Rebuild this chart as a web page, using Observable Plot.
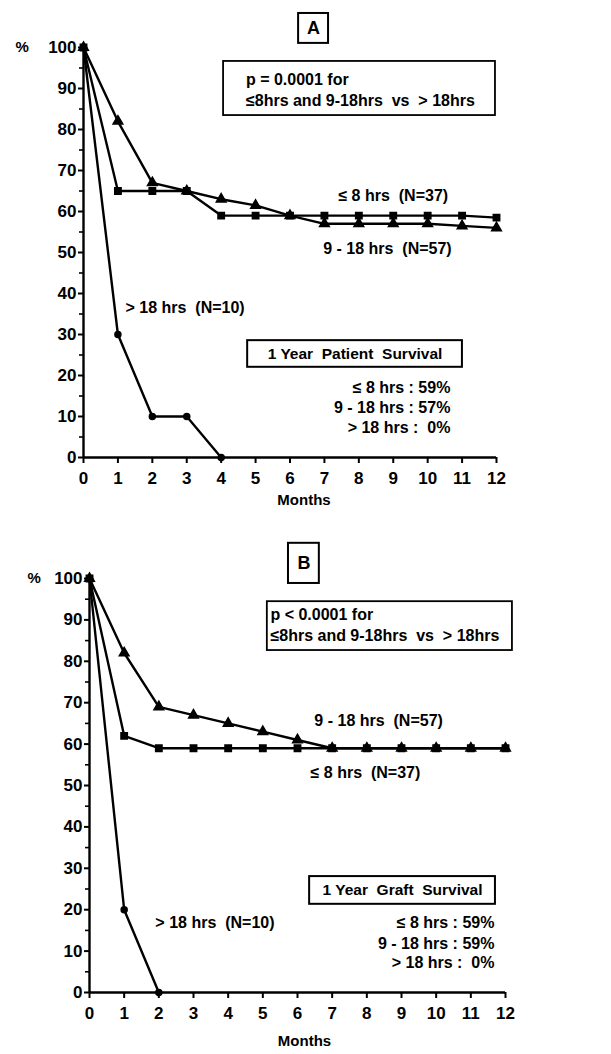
<!DOCTYPE html>
<html>
<head>
<meta charset="utf-8">
<script src="https://cdn.jsdelivr.net/npm/d3@7"></script>
<script src="https://cdn.jsdelivr.net/npm/@observablehq/plot@0.6"></script>
<style>
  html, body { margin: 0; padding: 0; background: white; }
  svg { display: block; }
</style>
</head>
<body>
<div id="a"></div>
<div id="b"></div>
<script>
// ---- Data ----
const months = [0,1,2,3,4,5,6,7,8,9,10,11,12];
const xTicks = [0,1,2,3,4,5,6,7,8,9,10,11,12];
const yTicks = [0,10,20,30,40,50,60,70,80,90,100];
const yMinorTicks = [5,15,25,35,45,55,65,75,85,95];

// Panel A: patient survival
const a_le8   = [100,65,65,65,59,59,59,59,59,59,59,59,58.5];
const a_9to18 = [100,82,67,65,63,61.5,59,57,57,57,57,56.5,56];
const a_gt18  = [100,30,10,10,0];

// Panel B: graft survival
const b_le8   = [100,62,59,59,59,59,59,59,59,59,59,59,59];
const b_9to18 = [100,82,69,67,65,63,61,59,59,59,59,59,59];
const b_gt18  = [100,20,0];

const pts = (vals, sym) => vals.map((v, i) => ({month: months[i], value: v, sym}));

const FONT = "'Liberation Sans', Arial, Helvetica, sans-serif";

function panel(cfg) {
  const series = [
    pts(cfg.le8, "square"),
    pts(cfg.mid, "triangle"),
    pts(cfg.gt18, "circle")
  ];
  const marks = [
    Plot.ruleX([0], {y1: 0, y2: 100, strokeWidth: 2.4}),
    Plot.ruleY([0], {strokeWidth: 2.4}),
    Plot.axisY({ticks: yTicks, tickSize: 5, tickPadding: 2, fontSize: 17, label: null, strokeWidth: 2}),
    Plot.axisY({ticks: yMinorTicks, tickSize: 4, tickFormat: () => "", label: null, strokeWidth: 1.6}),
    Plot.axisX({ticks: xTicks, tickSize: 6, tickPadding: 8, fontSize: 17, label: null, strokeWidth: 2}),
    Plot.text(["Months"], {frameAnchor: "bottom", dy: cfg.monthsDy, dx: cfg.monthsDx, fontSize: 15, text: d => d}),
    Plot.text(["%"], {frameAnchor: "top-left", lineAnchor: "middle", dx: cfg.pctDx, fontSize: 15, text: d => d}),
  ];
  for (const s of series) {
    marks.push(Plot.line(s, {x: "month", y: "value", stroke: "black", strokeWidth: 2.4}));
    marks.push(Plot.dot(s, {x: "month", y: "value", symbol: s[0].sym, fill: "black", stroke: "black", r: s[0].sym === "circle" ? 3 : 3.6}));
  }
  // Letter box
  const L = cfg.letter;
  marks.push(Plot.rect([L], {x1: "x1", x2: "x2", y1: "y1", y2: "y2", fill: "white", stroke: "black", strokeWidth: 2}));
  marks.push(Plot.text([L], {x: d => (d.x1 + d.x2) / 2, y: d => (d.y1 + d.y2) / 2, text: "t", fontSize: 18}));
  // p-value box
  const P = cfg.pbox;
  marks.push(Plot.rect([P], {x1: "x1", x2: "x2", y1: "y1", y2: "y2", fill: "white", stroke: "black", strokeWidth: 1.8}));
  marks.push(Plot.text(P.lines, {x: P.tx, y: "y", text: "t", textAnchor: "start", fontSize: 16}));
  // Series labels
  marks.push(Plot.text(cfg.labels.filter(d => d.anchor === "middle"), {x: "x", y: "y", text: "t", textAnchor: "middle", fontSize: 16}));
  marks.push(Plot.text(cfg.labels.filter(d => d.anchor === "start"), {x: "x", y: "y", text: "t", textAnchor: "start", fontSize: 16}));
  // Summary box
  const S = cfg.sbox;
  marks.push(Plot.rect([S], {x1: "x1", x2: "x2", y1: "y1", y2: "y2", fill: "white", stroke: "black", strokeWidth: 2}));
  marks.push(Plot.text([S], {x: d => (d.x1 + d.x2) / 2, y: d => (d.y1 + d.y2) / 2, text: "t", fontSize: 15.5}));
  marks.push(Plot.text(cfg.stats, {x: cfg.statsX, y: "y", text: "t", textAnchor: "end", fontSize: 16}));

  return Plot.plot({
    width: 611,
    height: cfg.height,
    marginLeft: cfg.ml,
    marginRight: cfg.mr,
    marginTop: cfg.mt,
    marginBottom: cfg.mb,
    x: {domain: [0, 12]},
    y: {domain: [0, 100]},
    style: {fontFamily: FONT, fontWeight: "bold", color: "black", background: "white", overflow: "visible"},
    marks
  });
}

const sp = "\u00a0";
document.getElementById("a").append(panel({
  height: 520, ml: 83, mr: 115, mt: 47, mb: 63,
  monthsDy: 47, monthsDx: 14, pctDx: -68,
  le8: a_le8, mid: a_9to18, gt18: a_gt18,
  letter: {x1: 6.25, x2: 7.12, y1: 101, y2: 108.3, t: "A"},
  pbox: {x1: 4.07, x2: 11.97, y1: 83.4, y2: 96.6, tx: 4.72,
         lines: [{y: 92, t: "p" + sp + "=" + sp + "0.0001" + sp + "for"},
                 {y: 87.1, t: "≤8hrs and 9-18hrs" + sp + sp + "vs" + sp + sp + ">" + sp + "18hrs"}]},
  labels: [
    {x: 9.0, y: 63.9, t: "≤ 8 hrs" + sp + sp + "(N=37)", anchor: "middle"},
    {x: 8.83, y: 51, t: "9 - 18 hrs" + sp + sp + "(N=57)", anchor: "middle"},
    {x: 1.22, y: 36.6, t: ">" + sp + "18 hrs" + sp + sp + "(N=10)", anchor: "start"}
  ],
  sbox: {x1: 4.77, x2: 11.01, y1: 22, y2: 28.5, t: "1 Year" + sp + sp + "Patient" + sp + sp + "Survival"},
  statsX: 10.66,
  stats: [
    {y: 17.1, t: "≤ 8 hrs : 59%"},
    {y: 12.2, t: "9 - 18 hrs : 57%"},
    {y: 7.3, t: "> 18 hrs :" + sp + sp + "0%"}
  ]
}));

document.getElementById("b").append(panel({
  height: 534, ml: 89, mr: 106, mt: 58, mb: 62,
  monthsDy: 53, monthsDx: 7, pctDx: -62,
  le8: b_le8, mid: b_9to18, gt18: b_gt18,
  letter: {x1: 5.74, x2: 6.63, y1: 98.8, y2: 108.5, t: "B"},
  pbox: {x1: 5.13, x2: 12.2, y1: 82.6, y2: 94.4, tx: 5.22,
         lines: [{y: 91.1, t: "p" + sp + "<" + sp + "0.0001" + sp + "for"},
                 {y: 86.2, t: "≤8hrs and 9-18hrs" + sp + sp + "vs" + sp + sp + ">" + sp + "18hrs"}]},
  labels: [
    {x: 8.34, y: 65.7, t: "9 - 18 hrs" + sp + sp + "(N=57)", anchor: "middle"},
    {x: 7.96, y: 53.1, t: "≤ 8 hrs" + sp + sp + "(N=37)", anchor: "middle"},
    {x: 1.9, y: 16.7, t: ">" + sp + "18 hrs" + sp + sp + "(N=10)", anchor: "start"}
  ],
  sbox: {x1: 6.35, x2: 11.71, y1: 21.3, y2: 28, t: "1 Year" + sp + sp + "Graft" + sp + sp + "Survival"},
  statsX: 11.68,
  stats: [
    {y: 16.7, t: "≤ 8 hrs : 59%"},
    {y: 11.8, t: "9 - 18 hrs : 59%"},
    {y: 7.2, t: "> 18 hrs :" + sp + sp + "0%"}
  ]
}));
</script>
</body>
</html>
